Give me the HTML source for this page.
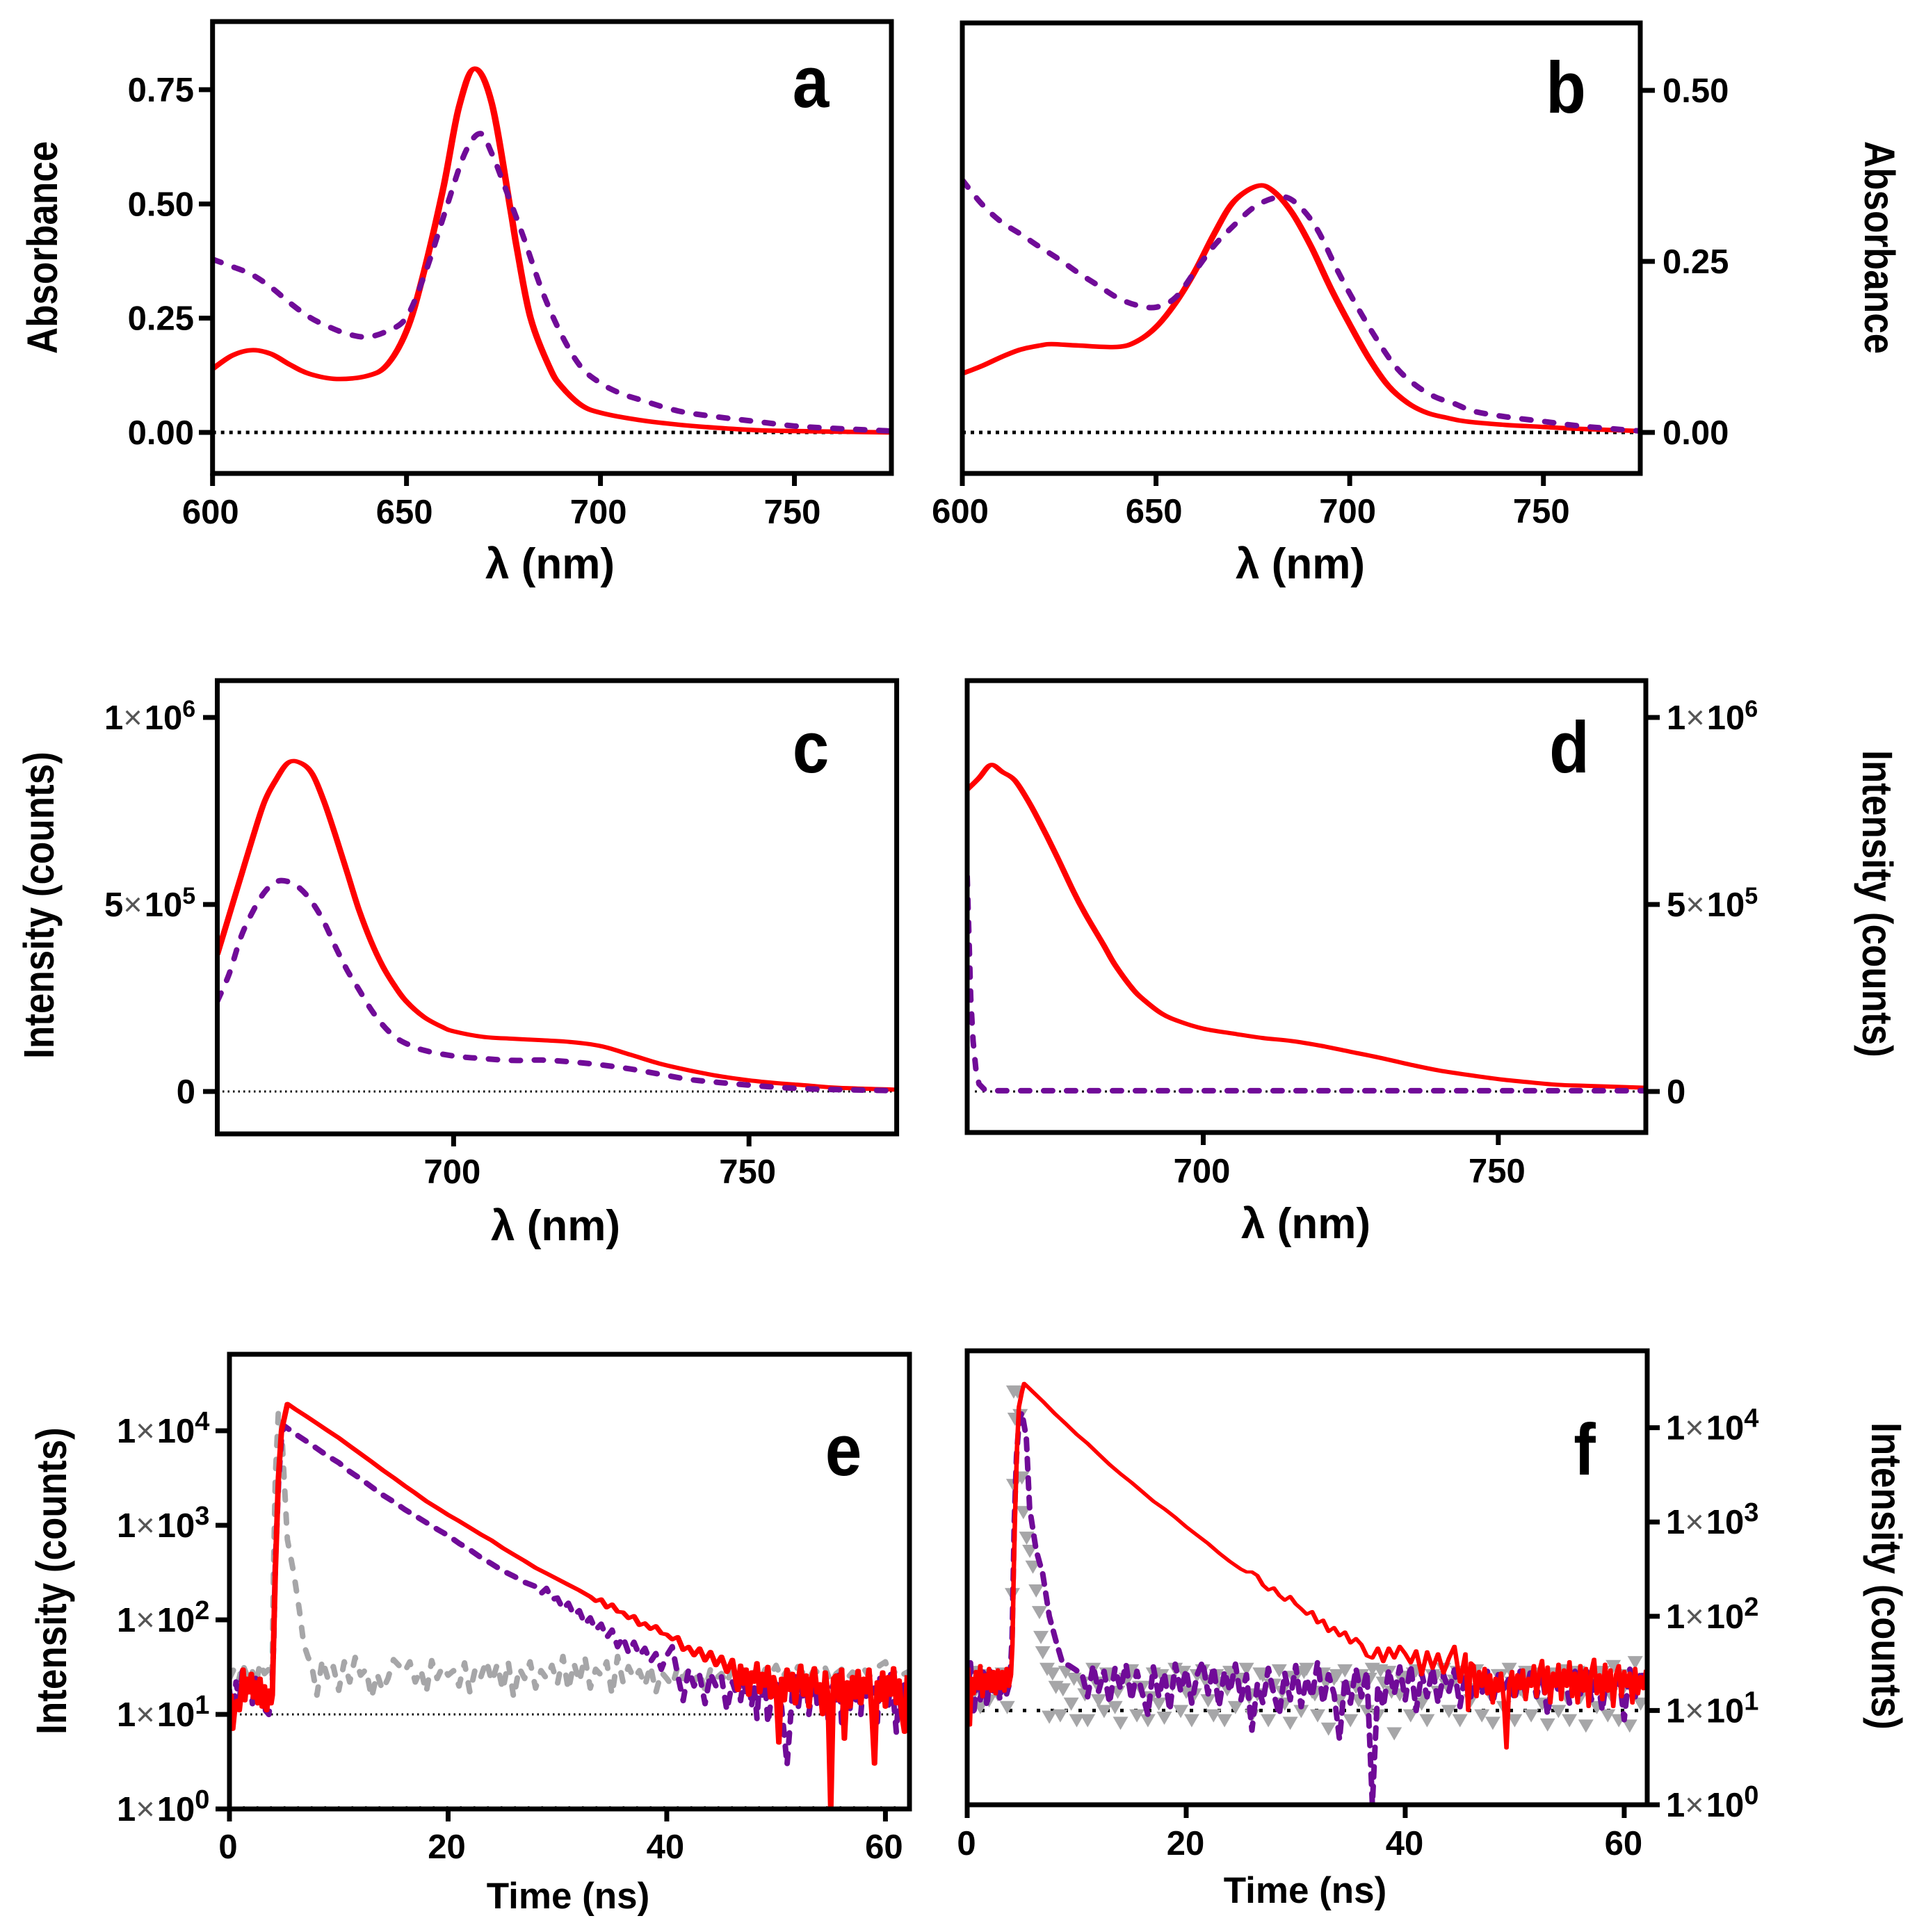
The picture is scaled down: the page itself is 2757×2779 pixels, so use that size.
<!DOCTYPE html>
<html lang="en">
<head>
<meta charset="utf-8">
<title>Absorbance, emission and decay spectra</title>
<style>
html,body{margin:0;padding:0;background:#fff;}
svg{display:block;}
text{font-family:"Liberation Sans",sans-serif;font-weight:bold;fill:#000;}
</style>
</head>
<body>
<svg id="figure" xmlns="http://www.w3.org/2000/svg" width="2757" height="2779" viewBox="0 0 2757 2779">
<rect x="0" y="0" width="2757" height="2779" fill="#fff"/>
<g id="plots"></g>

<text transform="translate(1166 154) scale(.9 1)" font-size="105" text-anchor="middle">a</text>
<text transform="translate(2252 162) scale(.9 1)" font-size="105" text-anchor="middle">b</text>
<text transform="translate(1166 1111) scale(.9 1)" font-size="105" text-anchor="middle">c</text>
<text transform="translate(2257 1111) scale(.9 1)" font-size="105" text-anchor="middle">d</text>
<text transform="translate(1213 2122) scale(.9 1)" font-size="105" text-anchor="middle">e</text>
<text transform="translate(2279 2121) scale(.9 1)" font-size="105" text-anchor="middle">f</text>

<text x="791" y="832" font-size="62" text-anchor="middle">λ (nm)</text>
<text x="1870" y="832" font-size="62" text-anchor="middle">λ (nm)</text>
<text x="799" y="1784" font-size="62" text-anchor="middle">λ (nm)</text>
<text x="1878" y="1781" font-size="62" text-anchor="middle">λ (nm)</text>
<text x="817" y="2745" font-size="53" text-anchor="middle">Time (ns)</text>
<text x="1877" y="2737" font-size="53" text-anchor="middle">Time (ns)</text>

<text transform="translate(82 356) rotate(-90) scale(1 1.15)" font-size="53" text-anchor="middle">Absorbance</text>
<text transform="translate(2682 356) rotate(90) scale(1 1.15)" font-size="53" text-anchor="middle">Absorbance</text>
<text transform="translate(77 1302) rotate(-90) scale(1 1.15)" font-size="53" text-anchor="middle">Intensity (counts)</text>
<text transform="translate(2679 1300) rotate(90) scale(1 1.15)" font-size="53" text-anchor="middle">Intensity (counts)</text>
<text transform="translate(95 2274) rotate(-90) scale(1 1.15)" font-size="53" text-anchor="middle">Intensity (counts)</text>
<text transform="translate(2692 2267) rotate(90) scale(1 1.15)" font-size="53" text-anchor="middle">Intensity (counts)</text>
</svg>

<script>
// ---------- panel a ----------
const aRedNm = [600,605,610,615,620,625,632,640,645,650,654,659.5,663.5,667.5,672,676.7,678.5,682,687,690,695,700,710,720,730,740,750,775];
const aRedAbs = [0.139,0.168,0.18,0.172,0.148,0.128,0.117,0.124,0.148,0.222,0.335,0.536,0.711,0.796,0.72,0.493,0.4,0.25,0.14,0.1,0.06,0.043,0.027,0.017,0.01,0.005,0.003,0];
const aPurpleNm = [600,605,610,615,620,625,630,635,640,645,650,655,660,665,669,672,675,680,685,690,695,700,705,710,720,730,740,750,760,775];
const aPurpleAbs = [0.379,0.363,0.346,0.318,0.283,0.252,0.231,0.215,0.209,0.222,0.252,0.353,0.484,0.61,0.654,0.61,0.545,0.431,0.309,0.213,0.143,0.108,0.086,0.072,0.047,0.034,0.024,0.014,0.009,0.003];
const aYTicks = [0,0.25,0.5,0.75];
const aYLabels = ['0.00','0.25','0.50','0.75'];
const abXTicks = [600,650,700,750];
const abXLabels = ['600','650','700','750'];

// ---------- panel b ----------
const bRedNm = [600,605,610,615,620,623,630,640,645,650,655,660,665,670,676,680,685,690,695,700,705,710,715,720,725,730,740,750,760,775];
const bRedAbs = [0.086,0.097,0.11,0.121,0.127,0.129,0.127,0.125,0.133,0.154,0.189,0.235,0.29,0.337,0.36,0.354,0.322,0.272,0.212,0.158,0.108,0.068,0.043,0.0285,0.0215,0.016,0.011,0.008,0.005,0.002];
const bPurpleNm = [600,605,610,615,620,625,630,635,640,645,650,655,660,665,670,675,680,684,688,692,697,702,707,712,717,722,727,732,740,750,760,775];
const bPurpleAbs = [0.369,0.334,0.308,0.29,0.271,0.253,0.233,0.215,0.197,0.186,0.183,0.197,0.235,0.273,0.302,0.328,0.342,0.343,0.325,0.293,0.235,0.183,0.136,0.095,0.069,0.052,0.042,0.031,0.023,0.016,0.009,0.002];
const bYTicks = [0,0.25,0.5];
const bYLabels = ['0.00','0.25','0.50'];

// ---------- panel c (values in units of 1e5 counts) ----------
const cRedNm = [660,662,664,666,668,670,672,674,676,678,680,682,684,686,688,690,692,695,698,700,705,710,715,720,725,730,735,740,745,750,755,760,765,775];
const cRedE5 = [3.66,4.7,5.75,6.79,7.75,8.35,8.79,8.79,8.51,7.78,6.85,5.85,4.85,4.02,3.35,2.83,2.41,1.99,1.73,1.61,1.46,1.41,1.37,1.32,1.21,0.98,0.74,0.56,0.41,0.3,0.22,0.16,0.1,0.05];
const cPurpleNm = [660,662,664,666,668,670,672,674,676,678,680,682,684,686,688,690,692,695,700,705,710,715,720,725,730,735,740,745,750,755,760,765,775];
const cPurpleE5 = [2.41,3.14,4.13,4.81,5.33,5.61,5.61,5.43,5.07,4.55,3.87,3.24,2.72,2.2,1.78,1.47,1.28,1.1,0.95,0.88,0.83,0.84,0.79,0.71,0.6,0.46,0.32,0.24,0.17,0.11,0.07,0.05,0.02];
const cdXTicks = [700,750];
const cdXLabels = ['700','750'];
const cdYTicks = [0,5,10];
const cdYMantissas = ['0','5','1'];
const cdYExponents = [null,'5','6'];

// ---------- panel d (values in units of 1e5 counts) ----------
const dRedNm = [660,662,664,666,668,670,672,675,678,680,683,685,688,690,693,696,700,705,710,715,720,725,730,735,740,745,750,755,760,765,775];
const dRedE5 = [8.07,8.38,8.73,8.54,8.33,7.86,7.29,6.35,5.35,4.75,3.95,3.4,2.75,2.44,2.08,1.87,1.68,1.55,1.43,1.35,1.22,1.06,0.9,0.72,0.56,0.44,0.33,0.25,0.18,0.15,0.1];
const dPurpleNm = [660,660.3,660.6,661,661.5,662,663,665,700,750,775];
const dPurpleE5 = [5.75,4.16,2.49,1.35,0.56,0.2,0.04,0.02,0.02,0.02,0.02];

// ---------- decay panels: shared time grids ----------
const tailTime = [46.25,46.5,46.75,47,47.25,47.5,47.75,48,48.25,48.5,48.75,49,49.25,49.5,49.75,50,50.25,50.5,50.75,51,51.25,51.5,51.75,52,52.25,52.5,52.75,53,53.25,53.5,53.75,54,54.25,54.5,54.75,55,55.25,55.5,55.75,56,56.25,56.5,56.75,57,57.25,57.5,57.75,58,58.25,58.5,58.75,59,59.25,59.5,59.75,60,60.25,60.5,60.75,61,61.25,61.5,61.75,62];
const gridTime = [7.5,8,8.5,9,9.5,10,10.5,11,11.5,12,12.5,13,13.5,14,14.5,15,15.5,16,16.5,17,17.5,18,18.5,19,19.5,20,20.5,21,21.5,22,22.5,23,23.5,24,24.5,25,25.5,26,26.5,27,27.5,28,28.5,29,29.5,30,30.5,31,31.5,32,32.5,33,33.5,34,34.5,35,35.5,36,36.5,37,37.5,38,38.5,39,39.5,40,40.5,41,41.5,42,42.5,43,43.5,44,44.5,45,45.5,46,46.5,47,47.5,48,48.5,49,49.5,50,50.5,51,51.5,52,52.5,53,53.5,54,54.5,55,55.5,56,56.5,57,57.5,58,58.5,59,59.5,60,60.5,61,61.5,62];
const decayXTicks = [0,20,40,60];
const decayXLabels = ['0','20','40','60'];
const decayYTicks = [1,10,100,1000,10000];
const decayYMantissas = ['1','1','1','1','1'];
const decayYExponents = ['0','1','2','3','4'];

// ---------- panel e ----------
const eRedHeadTime = [0,0.15,0.3,0.5,0.7,0.9,1.1,1.25,1.4,1.6,1.8,2,2.2,2.4,2.6,2.8,3,3.2,3.4,3.6,3.8,3.92,4.03,4.2,4.48,4.76,5.3,6,7,8,9,10,11,12,13,14,15,16,17,18,19,20,21,22,23,24,25,26,27,28,29,30,31,32,33,33.5,34,34.5,35,35.5,36,36.5,37,37.5,38,38.5,39,39.5,40,40.5,41,41.5,42,42.5,43,43.5,44,44.5,45,45.5,46];
const eRedHeadCounts = [10,16,7,12,14,11,18,30,14,24,17,27,15,22,13,24,12,20,11,18,13,16,55,330,3240,10000,19300,17000,14300,12000,10000,8400,6900,5700,4700,3850,3200,2630,2190,1800,1530,1290,1110,945,800,690,575,490,420,355,310,270,235,205,176,158,165,135,146,122,120,104,110,88,92,80,86,72,70,62,66,48,52,42,50,37,46,33,41,28,38];
const eRedTailCounts = [26,18,33,21,30,16,28,22,35,17,27,20,32,15,25,19,
  5,24,14,30,18,27,13,22,33,16,26,12,24,31,17,21,
  10,28,15,1,24,26,14,30,5.5,22,12,25,15,29,13,24,
  17,30,11,3,22,14,28,12,25,16,31,13,23,10,6.5,26];
const ePurpleHeadTime = [0,0.3,0.6,0.9,1.2,1.5,1.8,2.1,2.4,2.7,3,3.3,3.6,3.9,4.05,4.2,4.5,4.75,5,6,7,8,9,10,11,12,13,14,15,16,17,18,19,20,21,22,23,24,25,26,27,28,28.5,29,29.5,30,30.5,31,31.5,32,32.5,33,33.5,34,34.5,35,35.5,36,36.5,37,37.5,38,38.5,39,39.5,40,40.5,41,41.5,42,42.5,43,43.5,44,44.5,45,45.5,46];
const ePurpleHeadCounts = [18,9,22,14,30,16,26,13,24,15,20,11,10,18,60,400,3000,8000,11300,9300,7800,6500,5400,4600,3700,3100,2550,2100,1780,1480,1260,1070,910,780,645,550,457,390,330,290,250,225,190,215,165,170,130,150,112,125,90,105,78,90,65,78,52,66,45,58,42,50,36,44,30,42,52,26,14,30,20,26,13,27,20,25,11,22];
const ePurpleTailCounts = [18,24,14,22,17,26,12,20,9,24,16,21,8,13,19,23,
  15,12,6,2.9,7,18,25,11,20,15,23,10,17,27,13,19,
  12,24,9,18,21,14,26,8,17,22,11,25,13,20,10,23,
  15,27,12,19,8,24,16,21,11,28,14,6.5,18,9,22,7];
const eGrayHeadTime = [0,0.4,0.8,1.2,1.6,2,2.4,2.8,3.2,3.6,3.9,4.03,4.2,4.48,4.7,5,5.3,5.9,6.4,6.8,7.2];
const eGrayHeadCounts = [24,30,22,34,26,32,20,35,27,30,24,330,3240,16000,15000,3160,708,302,126,55,40];
const eGrayGridCounts = [34,16,38,24,32,18,36,22,40,26,30,15,27,18,24,38,33,28,36,22,30,17,37,24,32,26,29,20,35,17,31,25,37,22,34,18,36,15,31,24,36,19,29,24,33,21,41,18,35,22,41,19,30,26,36,16,41,22,32,24,29,20,33,17,28,24,20,32,24,30,22,28,18,30,24,27,21,32,25,30,24,28,22,30,26,33,24,29,25,32,27,24,30,26,31,22,27,30,24,28,26,31,25,29,33,36,24,30,26,28];

// ---------- panel f ----------
const fRedHeadTime = [0,0.1,0.25,0.4,0.6,0.8,1,1.2,1.4,1.6,1.8,2,2.2,2.4,2.6,2.8,3,3.2,3.4,3.6,3.8,4,4.13,4.25,4.37,4.55,4.72,5,5.2,6,7,8,9,10,11,12,13,14,15,16,17,18,19,20,21,22,23,24,25,25.5,26,26.5,27,27.5,28,28.5,29,29.5,30,30.5,31,31.5,32,32.5,33,33.5,34,34.5,35,35.5,36,36.5,37,37.5,38,38.5,39,39.5,40,40.5,41,41.5,42,42.5,43,43.5,44,44.5,45,45.5,45.75,46];
const fRedHeadCounts = [14,28,7,22,15,26,17,30,14,24,17,28,16,26,15,27,17,26,16,28,18,24,50,300,1200,6000,16600,24000,29500,24000,18600,14100,11000,8500,6800,5250,4070,3240,2630,2090,1660,1380,1120,890,724,590,468,380,316,295,295,270,214,190,200,166,148,162,135,120,105,112,85,91,69,76,62,68,52,58,50,38,36,46,33,46,36,48,40,32,43,24,42,28,40,25,36,48,20,40,10,32];
const fRedTailCounts = [30,14,26,18,28,15,24,12,22,16,25,13,4,19,26,14,
  24,17,27,13,22,18,30,14,26,34,15,29,12,25,18,31,
  13,27,18,33,14,25,12,30,16,28,11,26,35,15,24,13,
  31,16,27,11,24,30,14,26,18,25,12,28,15,23,17,27];
const fPurpleHeadTime = [0,0.3,0.6,0.9,1.2,1.5,1.8,2.1,2.4,2.7,3,3.3,3.6,3.9,4.1,4.3,4.5,4.75,5,5.4,5.7,6.3,6.9,7.5,8.1,8.7,9.3,9.9];
const fPurpleHeadCounts = [12,32,9,24,13,28,11,26,15,22,13,25,15,20,60,1000,5000,12000,14500,7900,1400,500,280,100,55,32,30,27];
const fPurpleGridCounts = [24,14,30,16,26,12,28,17,31,13,26,15,9,29,14,25,10,31,16,27,12,24,33,15,29,11,26,16,31,13,24,6.2,19,12,28,15,9,25,13,30,11,22,14,33,12,24,15,4.9,22,12,28,14,26,1,18,11,27,15,29,13,30,10,25,14,28,12,24,16,27,11,25,14,22,15,26,12,24,17,22,13,26,15,28,14,25,9,24,16,27,12,26,15,29,13,24,10,27,16,25,8,28,14,26,18];
const fGrayHeadTime = [0,0.4,0.8,1.2,1.6,2,2.4,2.8,3.2,3.66,4.13,4.25,4.25,4.6,4.37,4.84,5,5.13,5.43,5.72,6,6.3,6.6,6.73,6.9,7.3,7.5,7.8,8.1];
const fGrayHeadCounts = [23,14,26,11,24,13,20,15,25,11,174,2500,24500,24500,12600,13800,3000,1290,690,500,340,190,112,61,42,28,8.7,25,18];
const fGrayGridCounts = [9,26,12,8,20,8,28,13,10,24,
  11,7.5,22,27,9,18,8,25,12,8.5,
  21,28,10,16,8,24,27,13,9,20,
  8,26,11,22,28,9,15,24,8,19,
  27,12,7.5,23,10,28,16,9,25,6.5,
  22,13,27,8,18,24,10,28,9,20,
  26,5.8,15,23,9,27,12,8,24,16,
  28,10,21,8,25,13,27,9,19,7.5,
  24,11,28,8,17,26,9,22,12,7.2,
  25,10,27,8,20,14,7,23,11,26,
  9,30,8,18,7,33,12,22];
const fGrayMidTime = [8.75,9.75,10.75,11.75,12.75,13.75,14.75,15.75,16.75,17.75,18.75,19.75,20.75,21.75,22.75,23.75,24.75,25.75,26.75,27.75,28.75,29.75,30.75,31.75,32.75,33.75,34.75,35.75,36.75,37.75,38.75,39.75,40.75,41.75,42.75,43.75,44.75,45.75,46.75,47.75,48.75,49.75,50.75,51.75,52.75,53.75,54.75,55.75,56.75,57.75,58.75,59.75,60.75,61.75];
const fGrayMidCounts = [17,22,15,20,25,16,23,18,14,24,19,26,15,21,24,17,22,14,25,19,16,23,26,15,20,24,18,13,22,27,16,21,25,14,23,19,26,17,22,15,24,20,16,25,18,22,14,26,19,23,15,24,17,21];

// ---------- rendering ----------
const NS = 'http://www.w3.org/2000/svg';
const root = document.getElementById('plots');
const RED = '#ff0000';
const PURPLE = '#700b98';
const GRAY = '#a6a6a8';
const AXIS_W = 7;
const RED_STRETCH = 1.45;

function mk(parent, tag, attrs, text) {
  const n = document.createElementNS(NS, tag);
  for (const k in attrs) n.setAttribute(k, attrs[k]);
  if (text !== undefined) n.textContent = text;
  parent.appendChild(n);
  return n;
}
function linearScale(d0, d1, r0, r1) {
  return v => r0 + (v - d0) / (d1 - d0) * (r1 - r0);
}
function logScale(e0, e1, r0, r1) {
  const s = linearScale(e0, e1, r0, r1);
  return v => s(Math.log10(v));
}
function linePath(pts) {
  return pts.map((p, i) => (i ? 'L' : 'M') + p[0].toFixed(1) + ' ' + p[1].toFixed(1)).join('');
}
function smoothPath(pts) {
  let d = 'M' + pts[0][0].toFixed(1) + ' ' + pts[0][1].toFixed(1);
  for (let i = 0; i < pts.length - 1; i++) {
    const p0 = pts[Math.max(0, i - 1)], p1 = pts[i], p2 = pts[i + 1], p3 = pts[Math.min(pts.length - 1, i + 2)];
    const c1x = p1[0] + (p2[0] - p0[0]) / 6, c1y = p1[1] + (p2[1] - p0[1]) / 6;
    const c2x = p2[0] - (p3[0] - p1[0]) / 6, c2y = p2[1] - (p3[1] - p1[1]) / 6;
    d += 'C' + c1x.toFixed(1) + ' ' + c1y.toFixed(1) + ' ' + c2x.toFixed(1) + ' ' + c2y.toFixed(1) + ' ' + p2[0].toFixed(1) + ' ' + p2[1].toFixed(1);
  }
  return d;
}
function toPoints(xs, ys, sx, sy) {
  const n = Math.min(xs.length, ys.length), out = [];
  for (let i = 0; i < n; i++) out.push([sx(xs[i]), sy(ys[i])]);
  return out;
}

const panels = [
  { id:'a', left:305.7, right:1282, top:31, bottom:681, xMin:600, xMax:775, yMin:-0.0898, yMax:0.8991, log:false,
    side:'left', tickEnd:286, labelX:279, xTickEnd:699, xLabelY:753, xLabelDx:-3, xTicks:abXTicks, xLabels:abXLabels, yTicks:aYTicks, yLabels:aYLabels,
    refs:[{v:0,w:5,dash:'5 7'}],
    series:[
      {name:'red-curve', x:aRedNm, y:aRedAbs, color:RED, w:6.5, smooth:true, stretch:true},
      {name:'purple-dashed-curve', x:aPurpleNm, y:aPurpleAbs, color:PURPLE, w:8, smooth:true, dash:'13 20'}
    ]},
  { id:'b', left:1384, right:2359, top:33, bottom:681, xMin:600, xMax:775, yMin:-0.06, yMax:0.5986, log:false,
    side:'right', tickEnd:2380, labelX:2391, xTickEnd:699, xLabelY:752, xLabelDx:-3, xTicks:abXTicks, xLabels:abXLabels, yTicks:bYTicks, yLabels:bYLabels,
    refs:[{v:0,w:5,dash:'5 7'}],
    series:[
      {name:'red-curve', x:bRedNm, y:bRedAbs, color:RED, w:6.5, smooth:true, stretch:true},
      {name:'purple-dashed-curve', x:bPurpleNm, y:bPurpleAbs, color:PURPLE, w:8, smooth:true, dash:'13 20'}
    ]},
  { id:'c', left:312.5, right:1289.6, top:979, bottom:1631, xMin:660, xMax:775, yMin:-1.134, yMax:10.985, log:false,
    side:'left', tickEnd:292, labelX:150, zeroX:281, supSize:34, xTickEnd:1649, xLabelY:1702, xLabelDx:-2, xTicks:cdXTicks, xLabels:cdXLabels, yTicks:cdYTicks, mant:cdYMantissas, exp:cdYExponents,
    refs:[{v:0,w:3,dash:'2.5 5'}],
    series:[
      {name:'red-curve', x:cRedNm, y:cRedE5, color:RED, w:6, smooth:true, stretch:true},
      {name:'purple-dashed-curve', x:cPurpleNm, y:cPurpleE5, color:PURPLE, w:8, smooth:true, dash:'13 20'}
    ]},
  { id:'d', left:1391, right:2367, top:979, bottom:1629, xMin:660, xMax:775, yMin:-1.097, yMax:10.985, log:false,
    side:'right', tickEnd:2387, labelX:2397, zeroX:2397, supSize:34, xTickEnd:1647, xLabelY:1701, xLabelDx:-2, xTicks:cdXTicks, xLabels:cdXLabels, yTicks:cdYTicks, mant:cdYMantissas, exp:cdYExponents,
    refs:[{v:0,w:3,dash:'3 8'}],
    series:[
      {name:'red-curve', x:dRedNm, y:dRedE5, color:RED, w:6, smooth:true, stretch:true},
      {name:'purple-dashed-curve', x:dPurpleNm, y:dPurpleE5, color:PURPLE, w:8, smooth:false, dash:'13 20'}
    ]},
  { id:'e', left:330, right:1308, top:1948, bottom:2602, xMin:0, xMax:62.2, yMin:0, yMax:4.809, log:true,
    side:'left', tickEnd:310, labelX:168, supSize:38, xTickEnd:2620, xLabelY:2673, xLabelDx:-2, xTicks:decayXTicks, xLabels:decayXLabels, yTicks:decayYTicks, mant:decayYMantissas, exp:decayYExponents,
    refs:[{v:10,w:3,dash:'2.5 5'},{v:1.04,w:3,dash:'2.5 17'}],
    series:[
      {name:'gray-dashed-trace', x:eGrayHeadTime.concat(gridTime), y:eGrayHeadCounts.concat(eGrayGridCounts), color:GRAY, w:8, dash:'13 20'},
      {name:'purple-dashed-trace', x:ePurpleHeadTime.concat(tailTime), y:ePurpleHeadCounts.concat(ePurpleTailCounts), color:PURPLE, w:8, dash:'14 16'},
      {name:'red-trace', x:eRedHeadTime.concat(tailTime), y:eRedHeadCounts.concat(eRedTailCounts), color:RED, w:5.5, stretch:true}
    ]},
  { id:'f', left:1391, right:2369, top:1943, bottom:2596, xMin:0, xMax:62.1, yMin:0, yMax:4.816, log:true,
    side:'right', tickEnd:2387, labelX:2396, supSize:38, xTickEnd:2615, xLabelY:2668, xLabelDx:-1, xTicks:decayXTicks, xLabels:decayXLabels, yTicks:decayYTicks, mant:decayYMantissas, exp:decayYExponents,
    refs:[{v:10,w:5,dash:'5 15'}],
    markers:{name:'gray-triangle', x:fGrayHeadTime.concat(gridTime.slice(2), fGrayMidTime), y:fGrayHeadCounts.concat(fGrayGridCounts, fGrayMidCounts), color:GRAY},
    series:[
      {name:'purple-dashed-trace', x:fPurpleHeadTime.concat(gridTime.slice(6)), y:fPurpleHeadCounts.concat(fPurpleGridCounts), color:PURPLE, w:8, dash:'15 13'},
      {name:'red-trace', x:fRedHeadTime.concat(tailTime), y:fRedHeadCounts.concat(fRedTailCounts), color:RED, w:4.5, stretch:true}
    ]}
];

const defs = mk(root, 'defs', {});



function sciLabel(g, p, i, y) {
  const m = p.mant[i], e = p.exp[i];
  if (e === null) {
    const z = mk(g, 'text', { x:p.zeroX, y:y + 17, 'font-size':49, 'text-anchor':p.side === 'left' ? 'end' : 'start' }, m);
    
    
    return;
  }
  const t = mk(g, 'text', { x:p.labelX, y:y + 17, 'font-size':49 });
  
  
  mk(t, 'tspan', {}, m);
  mk(t, 'tspan', { dx:0, dy:-1, 'font-size':47, style:'font-weight:normal;fill:#555' }, '×');
  mk(t, 'tspan', { dx:3, dy:1 }, '10');
  mk(t, 'tspan', { dy:-18, 'font-size':p.supSize }, e);
}

panels.forEach(p => {
  const g = mk(root, 'g', {});
  
  

  const sx = linearScale(p.xMin, p.xMax, p.left, p.right);
  const sy = p.log ? logScale(p.yMin, p.yMax, p.bottom, p.top) : linearScale(p.yMin, p.yMax, p.bottom, p.top);

  const clip = mk(defs, 'clipPath', { id:'clip-' + p.id });
  
  
  mk(clip, 'rect', { x:p.left, y:p.top, width:p.right - p.left, height:p.bottom - p.top });

  const plot = mk(g, 'g', { 'clip-path':'url(#clip-' + p.id + ')' });
  
  

  p.refs.forEach(r => {
    const ref = mk(plot, 'line', { x1:p.left, x2:p.right, y1:sy(r.v), y2:sy(r.v), stroke:'#000', 'stroke-width':r.w, 'stroke-dasharray':r.dash });
    
    
  });

  if (p.markers) {
    const mg = mk(plot, 'g', { fill:p.markers.color });
    
    
    toPoints(p.markers.x, p.markers.y, sx, sy).forEach(pt => {
      const tri = mk(mg, 'path', { d:'M' + (pt[0] - 11).toFixed(1) + ' ' + (pt[1] - 8).toFixed(1) + 'L' + (pt[0] + 11).toFixed(1) + ' ' + (pt[1] - 8).toFixed(1) + 'L' + pt[0].toFixed(1) + ' ' + (pt[1] + 11).toFixed(1) + 'Z' });
      
      
    });
  }

  p.series.forEach(s => {
    const k = s.stretch ? RED_STRETCH : 1;
    const pts = toPoints(s.x, s.y, v => sx(v) / k, sy);
    const attrs = { d:s.smooth ? smoothPath(pts) : linePath(pts), fill:'none', stroke:s.color, 'stroke-width':s.w, 'stroke-linejoin':'round' };
    if (s.stretch) attrs.transform = 'scale(' + k + ' 1)';
    if (s.dash) { attrs['stroke-dasharray'] = s.dash; attrs['stroke-linecap'] = 'round'; }
    const path = mk(plot, 'path', attrs);
    
    
  });

  const frame = mk(g, 'rect', { x:p.left, y:p.top, width:p.right - p.left, height:p.bottom - p.top, fill:'none', stroke:'#000', 'stroke-width':AXIS_W });
  
  

  p.xTicks.forEach((v, i) => {
    const x = sx(v);
    const tick = mk(g, 'line', { x1:x, x2:x, y1:p.bottom, y2:p.xTickEnd, stroke:'#000', 'stroke-width':AXIS_W });
    
    
    const lab = mk(g, 'text', { x:x + p.xLabelDx, y:p.xLabelY, 'font-size':49, 'text-anchor':'middle' }, p.xLabels[i]);
    
    
  });

  p.yTicks.forEach((v, i) => {
    const y = sy(v);
    const base = p.side === 'left' ? p.left : p.right;
    const tick = mk(g, 'line', { x1:base, x2:p.tickEnd, y1:y, y2:y, stroke:'#000', 'stroke-width':AXIS_W });
    
    
    if (p.yLabels) {
      const lab = mk(g, 'text', { x:p.labelX, y:y + 17, 'font-size':49, 'text-anchor':p.side === 'left' ? 'end' : 'start' }, p.yLabels[i]);
      
      
    } else {
      sciLabel(g, p, i, y);
    }
  });
});
</script>
</body>
</html>
